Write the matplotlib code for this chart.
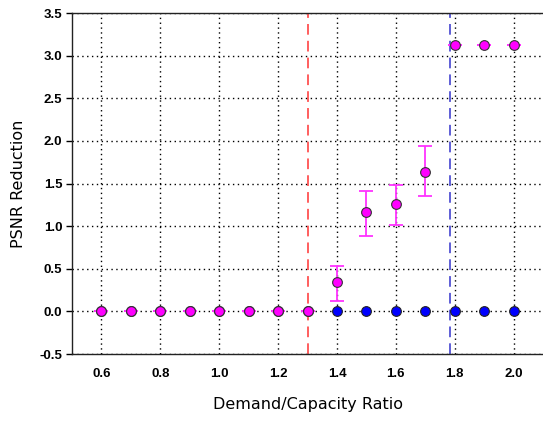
import numpy as np
import matplotlib.pyplot as plt

# datos
ratio = [0.6, 0.7, 0.8, 0.9, 1.0, 1.1, 1.2, 1.3, 1.4, 1.5, 1.6, 1.7, 1.8, 1.9, 2.0]
blue_vals = [0.0] * 15
magenta_vals = [0, 0, 0, 0, 0, 0, 0, 0, 0.34, 1.17, 1.26, 1.64, 3.13, 3.13, 3.13]
err_low = [0, 0, 0, 0, 0, 0, 0, 0, 0.12, 0.88, 1.01, 1.36, 3.13, 3.13, 3.13]
err_high = [0, 0, 0, 0, 0, 0, 0, 0, 0.53, 1.41, 1.48, 1.94, 3.13, 3.13, 3.13]
red_line = 1.3
blue_line = 1.784
xticks = [0.6, 0.8, 1.0, 1.2, 1.4, 1.6, 1.8, 2.0]
yticks = [-0.5, 0.0, 0.5, 1.0, 1.5, 2.0, 2.5, 3.0, 3.5]

fig = plt.figure(figsize=(5.43, 4.23), dpi=100)
ax = fig.add_axes([0.1326, 0.163, 0.8674, 0.806])

# barras de error
mv = np.array(magenta_vals)
yerr = [mv - np.array(err_low), np.array(err_high) - mv]
ax.errorbar(ratio, magenta_vals, yerr=yerr, fmt='none', ecolor='#ff33ff',
            elinewidth=1.3, capsize=5, capthick=1.3, zorder=3)

ax.plot(ratio, blue_vals, 'o', color='#0000ff', markeredgecolor='#222222',
        markersize=7, markeredgewidth=0.8, zorder=4)
ax.plot(ratio, magenta_vals, 'o', color='#ff00ff',
        markeredgecolor='#333333', markersize=7, markeredgewidth=0.8, zorder=5)

# lineas verticales de referencia
ax.axvline(red_line, color='#ff3333', linestyle=(0, (7, 4)), linewidth=1.1, zorder=2)
ax.axvline(blue_line, color='#3333cc', linestyle=(0, (7, 4)), linewidth=1.1, zorder=2)

ax.set_xlim(0.5, 2.1)
ax.set_ylim(-0.5, 3.5)
ax.set_xticks(xticks)
ax.set_yticks(yticks)
ax.set_xticklabels([f'{v:.1f}' for v in xticks])
ax.set_yticklabels([f'{v:.1f}' for v in yticks])
for lab in ax.get_xticklabels() + ax.get_yticklabels():
    lab.set_fontweight('bold')
    lab.set_fontfamily('Liberation Sans')
    lab.set_fontsize(9.5)

ax.tick_params(axis='x', length=0, pad=10)
ax.tick_params(axis='y', length=4, width=1, direction='out', pad=3)
ax.grid(True, color='black', linestyle=(0, (1, 2.5)), linewidth=1.0)
ax.set_axisbelow(True)
for s in ax.spines.values():
    s.set_linewidth(1.0)
    s.set_color('#222222')
ax.spines['right'].set_visible(False)

ax.set_xlabel('Demand/Capacity Ratio', fontsize=11.5, labelpad=12)
ax.set_ylabel('PSNR Reduction', fontsize=11.5, labelpad=10)

fig.savefig('out.png', dpi=100)
